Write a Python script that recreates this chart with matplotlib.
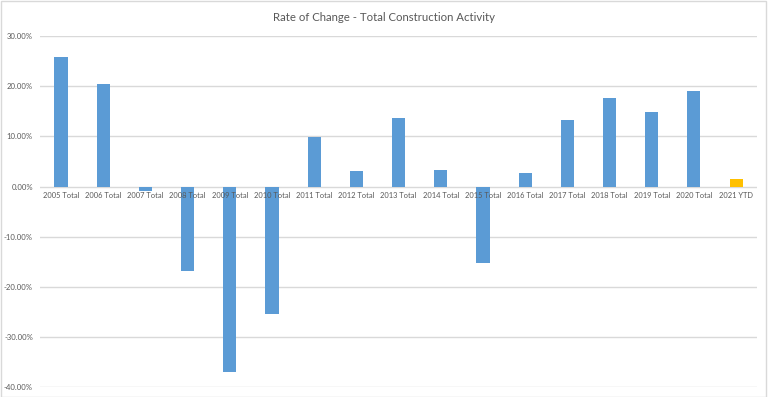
import matplotlib
matplotlib.use("Agg")
import matplotlib.pyplot as plt
from matplotlib.ticker import FuncFormatter
import numpy as np

# Rate of change per year (percent)
categories = ["2005 Total", "2006 Total", "2007 Total", "2008 Total", "2009 Total",
              "2010 Total", "2011 Total", "2012 Total", "2013 Total", "2014 Total",
              "2015 Total", "2016 Total", "2017 Total", "2018 Total", "2019 Total",
              "2020 Total", "2021 YTD"]
rate_change = [25.9, 20.4, -0.8, -16.8, -36.9, -25.5, 9.8, 3.0, 13.6, 3.3,
               -15.2, 2.7, 13.3, 17.6, 14.8, 19.1, 1.5]

blue = "#5B9BD5"
gold = "#FFC000"
text_grey = "#595959"

plt.rcParams['font.family'] = ['Lato', 'DejaVu Sans']

fig = plt.figure(figsize=(7.68, 3.97), dpi=100)
ax = fig.add_axes([0.052, 0.025, 0.934, 0.884])

x = np.arange(len(categories))
colors = [blue] * (len(categories) - 1) + [gold]
ax.bar(x, rate_change, width=0.31, color=colors, zorder=2)

ax.set_xlim(-0.5, len(categories) - 0.5)
ax.set_ylim(-40, 30)
ax.set_yticks(np.arange(-40, 31, 10))
ax.yaxis.set_major_formatter(FuncFormatter(lambda v, _: f"{v:.2f}%".replace("\u2212", "-")))
ax.tick_params(axis='y', length=0, labelsize=5.6, labelcolor=text_grey, pad=5)
ax.set_xticks([])
ax.grid(axis='y', color="#D9D9D9", linewidth=1, zorder=0)
for s in ax.spines.values():
    s.set_visible(False)

# category labels sit just under the zero line, drawn over the bars
for xi, lab in zip(x, categories):
    ax.text(xi, -1.0, lab, ha='center', va='top', fontsize=5.4,
            color=text_grey, zorder=3)

fig.text(0.5, 0.957, "Rate of Change - Total Construction Activity",
         ha='center', va='center', fontsize=8.2, color=text_grey)

# light chart border
fig.patches.append(plt.Rectangle((0.001, 0.001), 0.997, 0.997, transform=fig.transFigure,
                                 fill=False, edgecolor="#D9D9D9", linewidth=1))

fig.savefig("out.png", dpi=100)
